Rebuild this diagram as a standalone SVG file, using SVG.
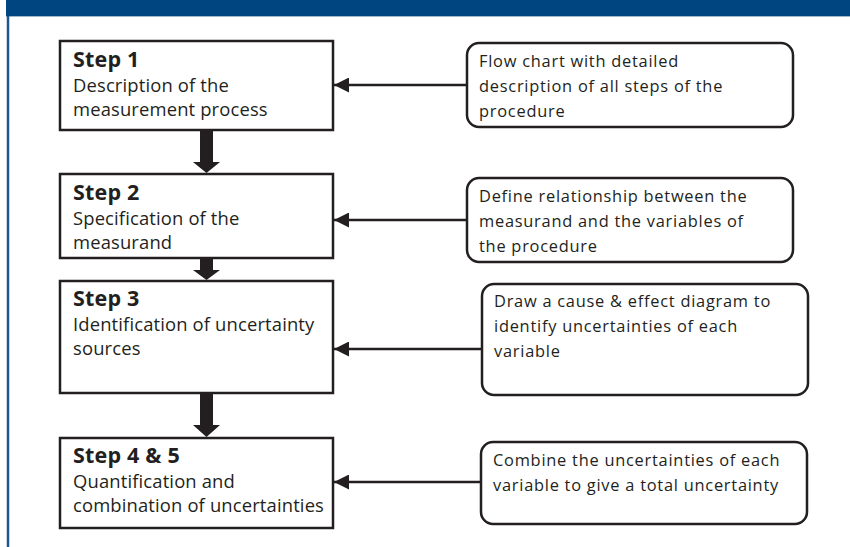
<svg xmlns="http://www.w3.org/2000/svg" width="850" height="547" viewBox="0 0 850 547">
<defs>
<style>
.step{fill:#fff;stroke:#231f20;stroke-width:2.5}
.note{fill:#fff;stroke:#231f20;stroke-width:2.5}
.t{font-family:"Open Sans","DejaVu Sans",sans-serif;fill:#231f20}
.h{font-size:21.5px;font-weight:bold;letter-spacing:0.2px}
.d{font-size:18.4px;letter-spacing:0.15px}
.n{font-size:16.4px;letter-spacing:0.75px}
.ln{stroke:#231f20;stroke-width:2.5;fill:none}
.dn{fill:#231f20}
</style>
<marker id="ah" viewBox="0 0 10 10" refX="10" refY="5" markerWidth="11" markerHeight="6" markerUnits="strokeWidth" orient="auto">
<path d="M0,0 L10,5 L0,10 Z" fill="#231f20"/>
</marker>
</defs>
<rect x="6" y="0" width="844" height="16" fill="#00457f"/>
<line x1="6" y1="16.5" x2="850" y2="16.5" stroke="#9fb6cc" stroke-width="1"/>
<line x1="8" y1="16" x2="8" y2="547" stroke="#1f5591" stroke-width="2.5"/>

<g id="step1">
<rect class="step" x="60" y="41" width="273" height="89"/>
<text class="t h" x="73" y="67">Step 1</text>
<text class="t d" x="73" y="92">Description of the</text>
<text class="t d" x="73" y="116">measurement process</text>
</g>
<g id="step2">
<rect class="step" x="60" y="174" width="273" height="84"/>
<text class="t h" x="73" y="200">Step 2</text>
<text class="t d" x="73" y="225">Specification of the</text>
<text class="t d" x="73" y="249">measurand</text>
</g>
<g id="step3">
<rect class="step" x="60" y="281" width="273" height="112"/>
<text class="t h" x="73" y="306">Step 3</text>
<text class="t d" x="73" y="331">Identification of uncertainty</text>
<text class="t d" x="73" y="355">sources</text>
</g>
<g id="step45">
<rect class="step" x="60" y="438" width="273" height="90"/>
<text class="t h" x="73" y="463">Step 4 &amp; 5</text>
<text class="t d" x="73" y="488">Quantification and</text>
<text class="t d" x="73" y="512">combination of uncertainties</text>
</g>

<g id="note1">
<rect class="note" x="467" y="43" width="326" height="84" rx="12"/>
<text class="t n" x="479" y="67">Flow chart with detailed</text>
<text class="t n" x="479" y="92">description of all steps of the</text>
<text class="t n" x="479" y="117">procedure</text>
</g>
<g id="note2">
<rect class="note" x="467" y="178" width="326" height="84" rx="12"/>
<text class="t n" x="479" y="202">Define relationship between the</text>
<text class="t n" x="479" y="227">measurand and the variables of</text>
<text class="t n" x="479" y="252">the procedure</text>
</g>
<g id="note3">
<rect class="note" x="482" y="284" width="326" height="111" rx="12"/>
<text class="t n" x="494" y="307">Draw a cause &amp; effect diagram to</text>
<text class="t n" x="494" y="332">identify uncertainties of each</text>
<text class="t n" x="494" y="357">variable</text>
</g>
<g id="note4">
<rect class="note" x="481" y="442" width="326" height="82" rx="12"/>
<text class="t n" x="493" y="466">Combine the uncertainties of each</text>
<text class="t n" x="493" y="491">variable to give a total uncertainty</text>
</g>

<g id="connectors">
<line class="ln" x1="467" y1="85" x2="334" y2="85" marker-end="url(#ah)"/>
<line class="ln" x1="467" y1="220" x2="334" y2="220" marker-end="url(#ah)"/>
<line class="ln" x1="482" y1="349" x2="334" y2="349" marker-end="url(#ah)"/>
<line class="ln" x1="481" y1="482" x2="334" y2="482" marker-end="url(#ah)"/>
<path class="dn" d="M200,131 H213 V162 H220 L206.5,173 L193,162 H200 Z"/>
<path class="dn" d="M200,259 H213 V270 H220 L206.5,280 L193,270 H200 Z"/>
<path class="dn" d="M200,394 H213 V425 H220 L206.5,437 L193,425 H200 Z"/>
</g>
</svg>
